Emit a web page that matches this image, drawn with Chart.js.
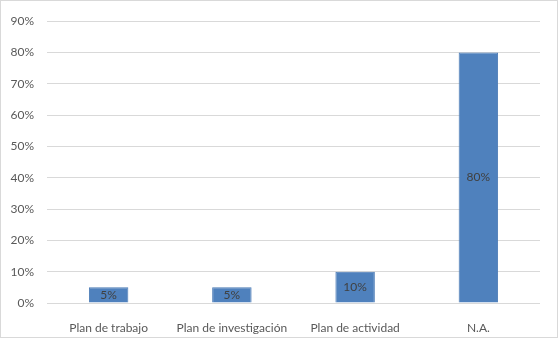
<!DOCTYPE html>
<html>
<head>
<meta charset="utf-8">
<script src="https://cdn.jsdelivr.net/npm/chart.js"></script>
<style>
  html, body { margin: 0; padding: 0; background: #fff; }
  #wrap { width: 556px; height: 336px; border: 1px solid #d9d9d9; }
</style>
</head>
<body>
<div id="wrap"><canvas id="chart" width="556" height="336"></canvas></div>
<script>
// datos
const categorias = ['Plan de trabajo', 'Plan de investigación', 'Plan de actividad', 'N.A.'];
const porcentajes = [5, 5, 10, 80];
const yTicks = [0, 10, 20, 30, 40, 50, 60, 70, 80, 90];

// etiquetas dentro de las barras (no hay plugin datalabels)
const etiquetas = {
  id: 'etiquetas',
  afterDatasetsDraw(chart) {
    const ctx = chart.ctx;
    const meta = chart.getDatasetMeta(0);
    ctx.save();
    ctx.font = '12px Lato';
    ctx.fillStyle = '#404040';
    ctx.textAlign = 'center';
    ctx.textBaseline = 'middle';
    meta.data.forEach((bar, i) => {
      const y = (bar.y + bar.base) / 2;
      ctx.fillText(porcentajes[i] + '%', bar.x, y);
    });
    ctx.restore();
  }
};

new Chart(document.getElementById('chart'), {
  type: 'bar',
  data: {
    labels: categorias,
    datasets: [{
      data: porcentajes,
      backgroundColor: '#4f81bd',
      borderColor: '#4a7ab5',
      borderWidth: 1,
      barPercentage: 0.32,
      categoryPercentage: 1
    }]
  },
  options: {
    responsive: false,
    animation: false,
    layout: { padding: { top: 20, right: 17, left: 0, bottom: 0 } },
    plugins: { legend: { display: false }, tooltip: { enabled: false } },
    scales: {
      x: {
        grid: { display: false },
        border: { display: false },
        ticks: { color: '#595959', font: { family: 'Lato', size: 12 }, padding: 10, maxRotation: 0 },
        afterFit(scale) { scale.height = 34; }
      },
      y: {
        min: 0,
        max: 90,
        afterBuildTicks(scale) { scale.ticks = yTicks.map(v => ({ value: v })); },
        grid: { color: '#d9d9d9', drawTicks: false },
        border: { display: false },
        ticks: {
          color: '#595959',
          font: { family: 'Lato', size: 12 },
          padding: 13,
          callback: v => v + '%'
        },
        afterFit(scale) { scale.width = 46; }
      }
    }
  },
  plugins: [etiquetas]
});
</script>
</body>
</html>
